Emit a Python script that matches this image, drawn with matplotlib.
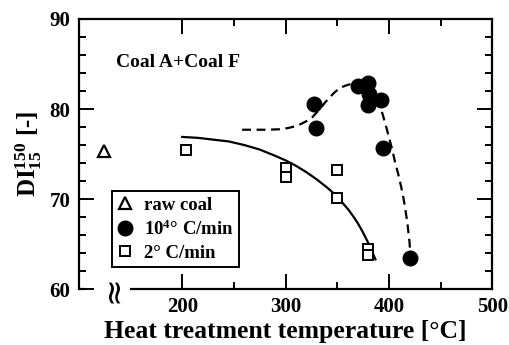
import numpy as np
import matplotlib.pyplot as plt
from matplotlib.ticker import MultipleLocator

plt.rcParams['font.family'] = ['Liberation Serif', 'DejaVu Serif']
plt.rcParams['font.weight'] = 'bold'
plt.rcParams['mathtext.fontset'] = 'custom'
plt.rcParams['mathtext.rm'] = 'Liberation Serif:bold'
plt.rcParams['mathtext.bf'] = 'Liberation Serif:bold'
plt.rcParams['mathtext.it'] = 'Liberation Serif:bold'

# data
raw_x = [124]
raw_y = [75.3]

fast_x = [328, 329, 370, 380, 381, 380, 392, 394, 420]
fast_y = [80.6, 77.9, 82.6, 82.9, 81.7, 80.5, 81.0, 75.7, 63.5]

slow_x = [204, 300, 300, 350, 350, 380, 380]
slow_y = [75.5, 73.5, 72.5, 73.2, 70.1, 64.5, 63.8]

# hand-drawn trend lines
solid_x = [200, 215, 230, 245, 260, 275, 290, 300, 310, 320, 330, 340, 348,
           355, 361, 366, 370, 374, 378, 381, 384, 387]
solid_y = [76.9, 76.8, 76.6, 76.4, 76.0, 75.5, 74.8, 74.3, 73.7, 73.0, 72.2, 71.3, 70.5,
           69.6, 68.8, 68.0, 67.3, 66.5, 65.6, 64.9, 64.1, 63.3]

dash_x = [258, 270, 282, 294, 303, 310, 316, 321, 326, 330, 334, 338, 342, 347,
          352, 358, 364, 370, 375, 380, 384, 388, 391, 394, 397, 400, 403, 406,
          409, 412, 414, 416, 418, 419, 420, 420.5]
dash_y = [77.7, 77.7, 77.7, 77.75, 77.9, 78.1, 78.4, 78.7, 79.1, 79.6, 80.1, 80.7, 81.2, 81.8,
          82.3, 82.6, 82.8, 82.9, 82.9, 82.7, 82.2, 81.4, 80.5, 79.4, 78.2, 76.9, 75.6, 74.1,
          72.8, 71.3, 70.2, 68.8, 67.3, 66.2, 65.2, 64.3]

fig = plt.figure(figsize=(5.09, 3.45), dpi=100)
ax = fig.add_axes([0.155, 0.162, 0.812, 0.783])

ax.plot(solid_x, solid_y, color='black', lw=1.6)
ax.plot(dash_x, dash_y, color='black', lw=1.6, dashes=(4, 2.5))

ax.plot(raw_x, raw_y, '^', ms=8, mfc='white', mec='black', mew=1.6, label='raw coal', clip_on=False)
ax.plot(fast_x, fast_y, 'o', ms=10.5, color='black', label=r'10$^{4}$° C/min', clip_on=False)
ax.plot(slow_x, slow_y, 's', ms=7, mfc='white', mec='black', mew=1.4, label='2° C/min')

ax.set_xlim(100, 500)
ax.set_ylim(60, 90)
ax.yaxis.set_major_locator(MultipleLocator(10))
ax.yaxis.set_minor_locator(MultipleLocator(2))
ax.set_xticks([200, 300, 400, 500])
ax.set_xticks([250, 350, 450], minor=True)
ax.tick_params(which='both', direction='in', top=True, right=True, width=1.4)
ax.tick_params(which='major', length=11, labelsize=15, pad=6)
ax.tick_params(which='minor', length=5)
for lab in ax.get_xticklabels() + ax.get_yticklabels():
    lab.set_fontweight('bold')

for s in ax.spines.values():
    s.set_linewidth(1.6)

# broken x axis
ax.spines['bottom'].set_bounds(150, 500)
ax.plot([100, 106], [60, 60], color='black', lw=1.6, clip_on=False, solid_capstyle='butt')
ax.text(133, 60, '≈', rotation=90, ha='center', va='center', fontsize=24,
        family='DejaVu Sans', fontweight='normal', clip_on=False)

ax.text(136, 85.2, 'Coal A+Coal F', fontsize=14, fontweight='bold', va='center')

ax.set_xlabel('Heat treatment temperature [°C]', fontsize=18.5, fontweight='bold', labelpad=2)
ax.set_ylabel(r'$\mathbf{DI}_{\mathbf{15}}^{\mathbf{150}}$ [-]', fontsize=18, fontweight='bold', labelpad=4)

leg = ax.legend(loc='lower left', bbox_to_anchor=(0.08, 0.081), borderaxespad=0,
                fancybox=False, edgecolor='black', framealpha=1,
                handlelength=0.8, handletextpad=0.6, borderpad=0.3, labelspacing=0.3,
                prop={'weight': 'bold', 'size': 13.5})
leg.get_frame().set_linewidth(1.4)

fig.savefig('out.png', dpi=100)
